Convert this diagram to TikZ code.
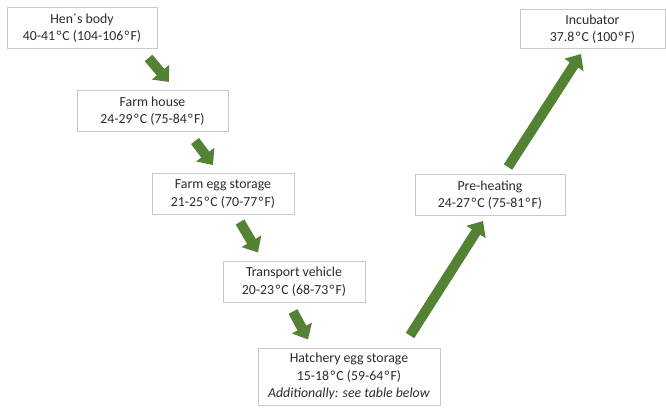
\documentclass[tikz,border=0pt]{standalone}
\usepackage{fontspec}
\setmainfont{Carlito}
\usepackage{tikz,xcolor}
\usetikzlibrary{arrows.meta}
\definecolor{arrowgreen}{HTML}{548235}
\definecolor{boxgray}{HTML}{C9C9C9}
\definecolor{textgray}{HTML}{2B2B2B}
\newcommand\dgr{\kern1.4pt°\kern1.2pt}

\begin{document}
\begin{tikzpicture}[x=1pt,y=-1pt,
  tempbox/.style={draw=boxgray,line width=1pt,fill=white,align=center,text=textgray,
    inner sep=2pt,minimum height=41pt,font=\fontsize{13.8}{17.5}\selectfont},
  flowarrow/.style={draw=arrowgreen,line width=10pt,
    -{Triangle[length=13pt,width=22pt]}}]
\useasboundingbox (0,0) rectangle (666,407);
% the stages, from the hen to the incubator
\node [tempbox,minimum width=150pt] (hen) at (82,28) {Hen´s body\\40-41\dgr C (104-106\dgr F)};
\node [tempbox,minimum width=151pt] (farm) at (152.5,111) {Farm house\\24-29\dgr C (75-84\dgr F)};
\node [tempbox,minimum width=142pt] (eggstore) at (223,194) {Farm egg storage\\21-25\dgr C (70-77\dgr F)};
\node [tempbox,minimum width=142pt] (transport) at (294,281.5) {Transport vehicle\\20-23\dgr C (68-73\dgr F)};
\node [tempbox,minimum width=182pt,minimum height=57pt] (hatchery) at (349,376.5)
  {Hatchery egg storage\\15-18\dgr C (59-64\dgr F)\\\textit{Additionally: see table below}};
\node [tempbox,minimum width=150pt] (preheat) at (490,195) {Pre-heating\\24-27\dgr C (75-81\dgr F)};
\node [tempbox,minimum width=145pt,minimum height=39pt] (incubator) at (592.5,29) {Incubator\\37.8\dgr C (100\dgr F)};
% arrows going down, then up again
\draw [flowarrow] ([xshift=-9pt,yshift=-9pt]hen.south east) -- ([xshift=16.5pt,yshift=8pt]farm.north);
\draw [flowarrow] ([xshift=42.5pt,yshift=-9pt]farm.south) -- ([xshift=-10pt,yshift=8pt]eggstore.north);
\draw [flowarrow] ([xshift=17pt,yshift=-7pt]eggstore.south) -- ([xshift=-36pt,yshift=8pt]transport.north);
\draw [flowarrow] ([xshift=-1pt,yshift=-9pt]transport.south) -- ([xshift=-41pt,yshift=8pt]hatchery.north);
\draw [flowarrow] ([xshift=61pt,yshift=12pt]hatchery.north) -- ([xshift=-7pt,yshift=-5pt]preheat.south);
\draw [flowarrow] ([xshift=18pt,yshift=7pt]preheat.north) -- ([xshift=-11.5pt,yshift=-5pt]incubator.south);
\end{tikzpicture}
\end{document}
